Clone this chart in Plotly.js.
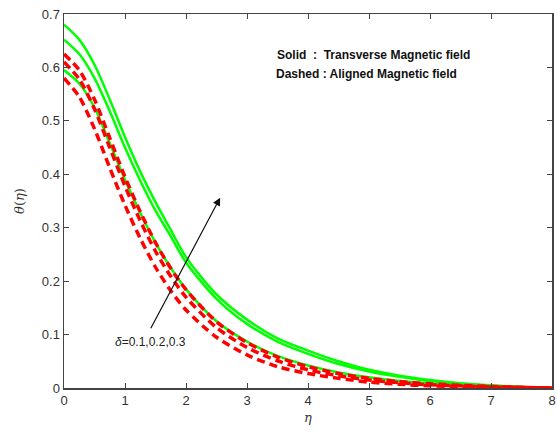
<!DOCTYPE html>
<html>
<head>
<meta charset="utf-8">
<script src="https://cdn.plot.ly/plotly-3.0.1.min.js"></script>
<style>html,body{margin:0;padding:0;background:#fff;}#chart{width:557px;height:441px;}</style>
</head>
<body>
<div id="chart"></div>
<script>
// eta grid
const eta = [0, 0.25, 0.5, 0.75, 1, 1.25, 1.5, 1.75, 2, 2.5, 3, 3.5, 4, 4.5, 5, 5.5, 6, 6.5, 7, 7.5, 8];
// Solid: Transverse magnetic field (delta = 0.1, 0.2, 0.3)
const solid_d01 = [0.595, 0.570, 0.525, 0.458, 0.390, 0.328, 0.272, 0.225, 0.185, 0.125, 0.087, 0.060, 0.042, 0.029, 0.020, 0.013, 0.008, 0.005, 0.003, 0.001, 0.000];
const solid_d02 = [0.652, 0.625, 0.580, 0.518, 0.450, 0.388, 0.332, 0.284, 0.235, 0.167, 0.120, 0.087, 0.064, 0.045, 0.031, 0.021, 0.013, 0.008, 0.004, 0.002, 0.000];
const solid_d03 = [0.680, 0.652, 0.605, 0.540, 0.470, 0.405, 0.348, 0.296, 0.245, 0.175, 0.128, 0.093, 0.070, 0.050, 0.034, 0.023, 0.015, 0.009, 0.005, 0.002, 0.000];
// Dashed: Aligned magnetic field (delta = 0.1, 0.2, 0.3)
const dashed_d01 = [0.580, 0.545, 0.485, 0.412, 0.342, 0.280, 0.226, 0.182, 0.146, 0.095, 0.062, 0.040, 0.027, 0.018, 0.011, 0.007, 0.004, 0.003, 0.002, 0.001, 0.000];
const dashed_d02 = [0.610, 0.578, 0.522, 0.450, 0.378, 0.313, 0.256, 0.209, 0.170, 0.113, 0.076, 0.051, 0.034, 0.023, 0.015, 0.010, 0.006, 0.004, 0.002, 0.001, 0.000];
const dashed_d03 = [0.625, 0.595, 0.540, 0.468, 0.395, 0.330, 0.272, 0.224, 0.184, 0.124, 0.085, 0.058, 0.040, 0.027, 0.018, 0.012, 0.008, 0.005, 0.003, 0.001, 0.000];
const xTicks = [0, 1, 2, 3, 4, 5, 6, 7, 8];
const yTicks = [0, 0.1, 0.2, 0.3, 0.4, 0.5, 0.6, 0.7];
const yTickText = ['0', '0.1', '0.2', '0.3', '0.4', '0.5', '0.6', '0.7'];

const solidStyle = {color: '#00ff00', width: 2.5, shape: 'spline', smoothing: 0.8};
const dashStyle = {color: '#ff0000', width: 3.5, dash: '8px,5px', shape: 'spline', smoothing: 0.8};

const traces = [
  {x: eta, y: solid_d01, mode: 'lines', line: solidStyle},
  {x: eta, y: solid_d02, mode: 'lines', line: solidStyle},
  {x: eta, y: solid_d03, mode: 'lines', line: solidStyle},
  {x: eta, y: dashed_d01, mode: 'lines', line: dashStyle},
  {x: eta, y: dashed_d02, mode: 'lines', line: dashStyle},
  {x: eta, y: dashed_d03, mode: 'lines', line: dashStyle}
];

const axisCommon = {
  showgrid: false, zeroline: false, showline: true, linecolor: '#444', linewidth: 1.5,
  mirror: 'ticks', ticks: 'inside', ticklen: 5, tickcolor: '#444',
  tickfont: {family: 'Liberation Sans, Arial, sans-serif', size: 13, color: '#333'}
};

const layout = {
  width: 557, height: 441,
  margin: {l: 64, r: 5, t: 14, b: 53},
  paper_bgcolor: '#fff', plot_bgcolor: '#fff',
  showlegend: false,
  xaxis: Object.assign({}, axisCommon, {
    range: [0, 8], tickvals: xTicks,
    title: {text: '<i>η</i>', font: {family: 'DejaVu Serif, serif', size: 13, color: '#333'}, standoff: 6}
  }),
  yaxis: Object.assign({}, axisCommon, {
    range: [0, 0.7], tickvals: yTicks, ticktext: yTickText,
    title: {text: '<i>θ</i>(<i>η</i>)', font: {family: 'DejaVu Serif, serif', size: 13, color: '#333'}, standoff: 14}
  }),
  annotations: [
    {x: 2.56, y: 0.356, ax: 1.41, ay: 0.109, xref: 'x', yref: 'y', axref: 'x', ayref: 'y',
     text: '', showarrow: true, arrowhead: 2, arrowsize: 1.3, arrowwidth: 1.2, arrowcolor: '#111'},
    {x: 1.42, y: 0.086, xref: 'x', yref: 'y', showarrow: false,
     text: '<i>δ</i>=0.1,0.2,0.3', font: {family: 'Liberation Sans, Arial, sans-serif', size: 12, color: '#222'}},
    {x: (275 - 64) / 488, y: 1 - (55 - 14) / 374, xref: 'paper', yref: 'paper', xanchor: 'left', yanchor: 'middle', showarrow: false,
     text: '<b>Solid  :  Transverse Magnetic field</b>', font: {family: 'Liberation Sans, Arial, sans-serif', size: 12, color: '#111'}},
    {x: (274 - 64) / 488, y: 1 - (74 - 14) / 374, xref: 'paper', yref: 'paper', xanchor: 'left', yanchor: 'middle', showarrow: false,
     text: '<b>Dashed : Aligned Magnetic field</b>', font: {family: 'Liberation Sans, Arial, sans-serif', size: 12, color: '#111'}}
  ]
};

Plotly.newPlot('chart', traces, layout, {displayModeBar: false, staticPlot: true});
</script>
</body>
</html>
